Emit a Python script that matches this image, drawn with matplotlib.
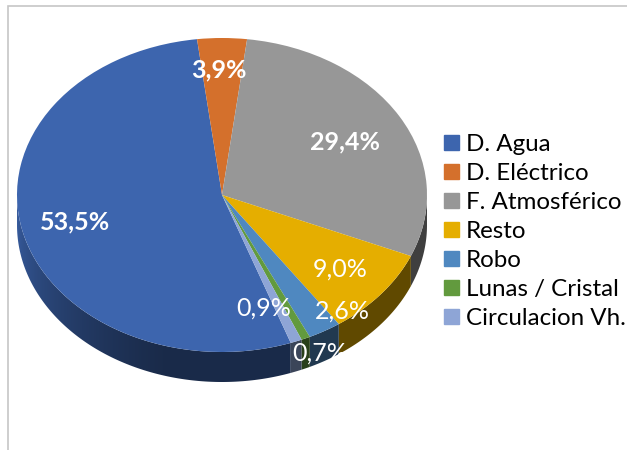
import numpy as np
import matplotlib.pyplot as plt
from matplotlib.colors import to_rgb
from matplotlib.patches import Rectangle, Polygon

# datos del grafico
categorias = ['D. Agua', 'D. Eléctrico', 'F. Atmosférico', 'Resto', 'Robo',
              'Lunas / Cristal', 'Circulacion Vh.']
porcentajes = [53.5, 3.9, 29.4, 9.0, 2.6, 0.7, 0.9]
colores = ['#3d65ae', '#d4702c', '#979797', '#e5ae00', '#4f88c0', '#629a3e', '#8ea5d6']
etiquetas = ['53,5%', '3,9%', '29,4%', '9,0%', '2,6%', '0,7%', '0,9%']
negrita = [True, True, True, False, False, False, False]
# posiciones de las etiquetas (unidades del pastel)
pos_etiquetas = [(-0.717, -0.172), (-0.015, 0.796), (0.60, 0.338), (0.576, -0.471),
                 (0.585, -0.739), (0.478, -1.006), (0.205, -0.72)]

W, H = 627, 450
CX, CY, RX, RY = 222, 195, 205, 157   # centro y radios en pixeles
PROF = 30 / RY                        # grosor del disco

plt.rcParams['font.family'] = ['Lato', 'DejaVu Sans']

fig = plt.figure(figsize=(W / 100, H / 100), dpi=100)
y_top, y_bot = 1.1, -1.4
ax = fig.add_axes([(CX - RX) / W, (H - (CY - y_bot * RY)) / H,
                   2 * RX / W, (y_top - y_bot) * RY / H])

wedges, _ = ax.pie(porcentajes, colors=colores, startangle=-70.4, counterclock=False,
                   radius=1, center=(0, 0), wedgeprops=dict(linewidth=0))
for w in wedges:
    w.set_zorder(3)


def sombra(a):
    # factor de luz del lateral segun el angulo (180..360)
    t = np.clip((255 - a) / 75, 0, 1)
    return 0.42 + 0.5 * t ** 1.2


# lateral 3D (solo mitad frontal), degradado recortado por cada porcion
xg = np.linspace(-1, 1, 600)
ag = 360 - np.degrees(np.arccos(xg))          # angulo de la mitad frontal para cada x
fac = sombra(ag)
for w, c in zip(wedges, colores):
    t1, t2 = w.theta1, w.theta2
    angs = np.linspace(t1, t2, 400)
    angs = angs[(angs % 360) >= 180]
    if len(angs) < 2:
        continue
    r = np.radians(angs)
    xs = np.concatenate([np.cos(r), np.cos(r[::-1])])
    ys = np.concatenate([np.sin(r), np.sin(r[::-1]) - PROF])
    poly = Polygon(np.column_stack([xs, ys]), closed=True, fc='none', ec='none')
    ax.add_patch(poly)
    img = np.clip(np.array(to_rgb(c))[None, None, :] * fac[None, :, None], 0, 1)
    im = ax.imshow(img, extent=(-1, 1, -1 - PROF, 0), aspect='auto',
                   interpolation='bilinear', zorder=2)
    im.set_clip_path(poly)

for txt, (x, y), b in zip(etiquetas, pos_etiquetas, negrita):
    ax.text(x, y, txt, color='white', fontsize=18, ha='center', va='center',
            fontweight='bold' if b else 'normal', zorder=5)

ax.set_aspect('auto')
ax.set_xlim(-1, 1)
ax.set_ylim(y_bot, y_top)
ax.axis('off')

# leyenda
handles = [Rectangle((0, 0), 1, 1, color=c) for c in colores]
fig.legend(handles, categorias, loc='upper left', bbox_to_anchor=(444 / W, 1 - 134 / H),
           frameon=False, fontsize=17.4, handlelength=0.6, handleheight=0.6,
           handletextpad=0.3, labelspacing=0.33, borderaxespad=0, borderpad=0)

# marco del area del grafico
fig.add_artist(Rectangle((7.5 / W, -0.1), 1.2, (H - 5.5) / H + 0.1, transform=fig.transFigure,
                         fill=False, edgecolor='#c6c6c6', lw=1.2))

fig.savefig('out.png', dpi=100)
